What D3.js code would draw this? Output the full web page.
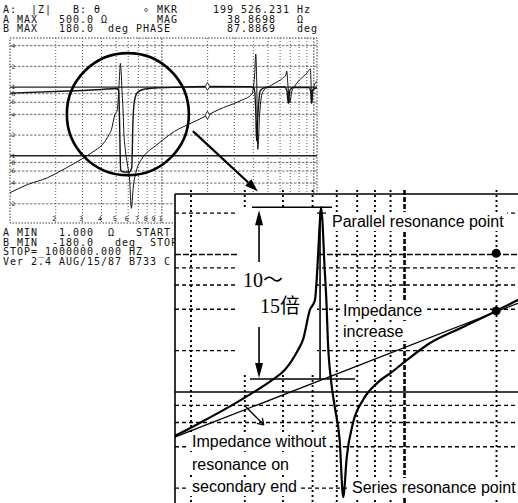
<!DOCTYPE html>
<html>
<head>
<meta charset="utf-8">
<script src="https://cdn.jsdelivr.net/npm/d3@7/dist/d3.min.js"></script>
<style>
  html, body { margin: 0; padding: 0; background: #fff; }
  svg { display: block; }
</style>
</head>
<body>
<script>
// |Z| trace of the sweep (frequency in kHz, magnitude in ohm)
const impFreq = [10, 13, 17.7, 22.7, 30, 36.8, 40.6, 44.8, 46.5, 49, 50.9, 52, 52.8, 53.3, 53.9, 54.6,
  55.6, 56.1, 57.5, 59.1, 61.3, 63, 64.7, 67.8, 73.1, 81.3, 91, 101.9, 121.2, 155.4, 199.526, 235,
  326, 391, 408, 415, 421, 428, 440, 462, 540, 625, 655, 664, 675, 695, 715, 750, 900, 950, 960, 970, 990, 1050];
const impMag = [2.9, 3.8, 4.8, 6.4, 9.1, 12.2, 14.5, 20.2, 23.9, 39.5, 46.7, 90, 170, 221, 170, 90,
  41.5, 23.9, 12, 7.8, 4.5, 1.72, 3.37, 5.95, 8.75, 11.6, 14, 17.1, 22.7, 29.7, 38.8698, 46.7,
  62.7, 79, 150, 303, 120, 12.4, 40, 86, 110, 135, 150, 171, 110, 58.5, 85, 103, 160, 183, 110, 58.5, 95, 122];

// phase trace (kHz, degrees)
const phaseFreq = [10, 24, 40, 50, 52, 52.8, 53.5, 56, 61, 63.3, 64.5, 66, 69, 75, 90, 130, 199.526,
  380, 405, 415, 420, 428, 445, 480, 640, 665, 680, 695, 730, 930, 955, 965, 980, 1050];
const phaseDeg = [75, 79, 82, 84, 80, 0, -75, -78, -78, -70, 20, 60, 76, 82, 85, 86.5, 87.8869,
  87.5, 84, 40, -18, 30, 80, 86, 87, 80, 55, 80, 86, 86, 78, 55, 80, 86];

// impedance with no resonance on the secondary end (straight on log-log)
const refFreq = [17.7, 235];
const refMag = [4.7, 44.2];

// marker readout
const markerFreq = 199.526231;   // kHz
const markerMag = 38.8698;       // ohm
const markerPhase = 87.8869;     // deg

// grid values and tick labels
const freqGrid = [20, 30, 40, 50, 60, 70, 80, 90, 100, 200, 300, 400, 500, 600, 700, 800, 900, 1000];
const freqTickLabels = ["2", "3", "4", "5", "6", "7", "8", "9", "1"];
const magGrid = [2, 4, 6, 8, 10, 20, 40, 60, 80, 100, 200, 400];
const magTickLabels = ["2", "4", "6", "8", "1", "2", "4", "6", "8", "1", "2", "4"];
const insetFreqGrid = [20, 30, 40, 50, 60, 70, 80, 90, 100, 200];
const insetMagGrid = [2, 4, 6, 8, 10, 20, 40, 60, 80, 100, 200];

// screen readout text
const headerRows = [
  "A:  |Z|   B: θ      ∘ MKR     199 526.231 Hz",
  "A MAX   500.0 Ω       MAG       38.8698   Ω",
  "B MAX   180.0  deg PHASE        87.8869   deg"
];
const footerRows = [
  "A MIN   1.000  Ω   START",
  "B MIN  -180.0   deg  STOP",
  "STOP=_1000000.000 HZ",
  "Ver 2.4 AUG/15/87 B733 C"
];

// annotation text
const labelParallel = "Parallel resonance point";
const labelIncrease = ["Impedance", "increase"];
const labelWithout = ["Impedance without", "resonance on", "secondary end"];
const labelSeries = "Series resonance point";
const labelRatio = ["10～", "15倍"];

// ------------------------------------------------------------------
const W = 518, H = 503;
const ink = "#111";
const mono = "'DejaVu Sans Mono', 'Liberation Mono', monospace";
const sans = "'Liberation Sans', Arial, 'Noto Sans', sans-serif";
const serif = "'Liberation Serif', 'Noto Sans CJK SC', serif";

const svg = d3.select("body").append("svg")
  .attr("width", W).attr("height", H)
  .attr("viewBox", `0 0 ${W} ${H}`);
const defs = svg.append("defs");

const imp = d3.zip(impFreq, impMag);
const phase = d3.zip(phaseFreq, phaseDeg);
const ref = d3.zip(refFreq, refMag);

// ---------------- analyzer screen ----------------
const scr = { l: 10, r: 317, t: 38, b: 223 };
const x = d3.scaleLog().domain([10, 1050]).range([scr.l, scr.r]);
const y = d3.scaleLog().domain([1, 500]).range([224.5, 39]);
const yPh = d3.scaleLinear().domain([-180, 180]).range([224.5, 39]);

defs.append("clipPath").attr("id", "scrClip")
  .append("rect").attr("x", scr.l).attr("y", scr.t)
  .attr("width", scr.r - scr.l).attr("height", scr.b - scr.t);

// fixed-pitch readout rows (spaces kept as no-break spaces so columns line up)
const textBlock = (rows, y0) => svg.append("g")
  .attr("font-family", mono).attr("font-size", 10).attr("fill", ink)
  .style("letter-spacing", "0.98px")
  .selectAll("text").data(rows).join("text")
  .attr("x", 3).attr("y", (d, i) => y0 + i * 9.5)
  .text(d => d.replace(/ /g, "\u00a0"));

textBlock(headerRows, 13);
textBlock(footerRows, 236);

const screen = svg.append("g");

// grid
screen.append("g").selectAll("line").data(freqGrid).join("line")
  .attr("x1", d => x(d)).attr("x2", d => x(d))
  .attr("y1", scr.t).attr("y2", scr.b)
  .attr("stroke", "#333").attr("stroke-width", 0.8)
  .attr("stroke-dasharray", d => d === 100 || d === 1000 ? "2,1" : "1,2");

screen.append("g").selectAll("line").data(magGrid).join("line")
  .attr("x1", scr.l).attr("x2", scr.r)
  .attr("y1", d => y(d)).attr("y2", d => y(d))
  .attr("stroke", d => (d === 10 || d === 100) ? "#222" : "#444")
  .attr("stroke-width", d => (d === 10 || d === 100) ? 1.3 : 0.8)
  .attr("stroke-dasharray", d => (d === 10 || d === 100) ? null : "2.5,1.5");

// frame
screen.append("rect")
  .attr("x", scr.l).attr("y", scr.t)
  .attr("width", scr.r - scr.l).attr("height", scr.b - scr.t)
  .attr("fill", "none").attr("stroke", "#222").attr("stroke-width", 0.9)
  .attr("stroke-dasharray", "1.5,1.5");

// tiny scale digits
screen.append("g").attr("font-family", mono).attr("font-size", 6).attr("fill", ink)
  .selectAll("text").data(magGrid).join("text")
  .attr("x", scr.l + 1.5).attr("y", d => y(d) + 2.2)
  .text((d, i) => magTickLabels[i]);

screen.append("g").attr("font-family", mono).attr("font-size", 6.5).attr("fill", ink)
  .attr("text-anchor", "middle")
  .selectAll("text").data(freqGrid.slice(0, freqTickLabels.length)).join("text")
  .attr("x", d => x(d) - 1.5).attr("y", scr.b - 2)
  .text((d, i) => freqTickLabels[i]);

// traces
const magLine = d3.line().x(d => x(d[0])).y(d => y(d[1])).curve(d3.curveMonotoneX);
const phLine = d3.line().x(d => x(d[0])).y(d => yPh(d[1])).curve(d3.curveMonotoneX);
const traces = screen.append("g").attr("clip-path", "url(#scrClip)");
traces.append("path").attr("d", phLine(phase))
  .attr("fill", "none").attr("stroke", ink).attr("stroke-width", 1.4);
traces.append("path").attr("d", magLine(imp))
  .attr("fill", "none").attr("stroke", ink).attr("stroke-width", 1);

// marker diamonds
const diamond = d3.symbol().type(d3.symbolDiamond).size(18);
screen.selectAll(".mk").data([yPh(markerPhase), y(markerMag)]).join("path")
  .attr("transform", d => `translate(${x(markerFreq)},${d})`)
  .attr("d", diamond).attr("fill", "#fff").attr("stroke", ink).attr("stroke-width", 0.9);

// highlight circle around the first resonance
const ringFreq = 59.7, ringMag = 40.3;
svg.append("circle")
  .attr("cx", x(ringFreq)).attr("cy", y(ringMag)).attr("r", 61)
  .attr("fill", "none").attr("stroke", "#000").attr("stroke-width", 2.6);

// pointer from the circle towards the enlarged view
const arrowFrom = [160, 22.8], arrowTo = [428, 3.03];
{
  const x0 = x(arrowFrom[0]), y0 = y(arrowFrom[1]);
  const x1 = x(arrowTo[0]), y1 = y(arrowTo[1]);
  const a = Math.atan2(y1 - y0, x1 - x0), L = 13, hw = 4.5;
  const bx = x1 - L * Math.cos(a), by = y1 - L * Math.sin(a);
  svg.append("line").attr("x1", x0).attr("y1", y0).attr("x2", bx).attr("y2", by)
    .attr("stroke", "#000").attr("stroke-width", 2.2);
  svg.append("path")
    .attr("d", `M${x1},${y1}L${bx + hw * Math.sin(a)},${by - hw * Math.cos(a)}L${bx - hw * Math.sin(a)},${by + hw * Math.cos(a)}Z`)
    .attr("fill", "#000");
}

// ---------------- enlarged view ----------------
const ins = { l: 175, t: 194, r: 518, b: 503 };
const xi = d3.scaleLog().domain([20, 200]).range([191, 496.5]);
const yi = d3.scaleLog().domain([10, 100]).range([392, 254.5]);

defs.append("clipPath").attr("id", "insClip")
  .append("rect").attr("x", ins.l).attr("y", ins.t)
  .attr("width", ins.r - ins.l).attr("height", ins.b - ins.t);

const inset = svg.append("g");
inset.append("rect")
  .attr("x", ins.l).attr("y", ins.t)
  .attr("width", ins.r - ins.l).attr("height", ins.b - ins.t)
  .attr("fill", "#fff");

const iGrid = inset.append("g");
iGrid.append("g").attr("clip-path", "url(#insClip)")
  .selectAll("line").data(insetMagGrid).join("line")
  .attr("x1", ins.l).attr("x2", ins.r)
  .attr("y1", d => yi(d)).attr("y2", d => yi(d))
  .attr("stroke", "#000")
  .attr("stroke-width", d => d === 10 ? 1.7 : 1.4)
  .attr("stroke-dasharray", d => d === 10 ? null : (d === 100 ? "6,2" : "4,3"));
iGrid.append("g")
  .selectAll("line").data(insetFreqGrid).join("line")
  .attr("x1", d => xi(d)).attr("x2", d => xi(d))
  .attr("y1", ins.t - 4).attr("y2", ins.b)
  .attr("stroke", "#000")
  .attr("stroke-width", d => d === 100 ? 2.6 : 1.9)
  .attr("stroke-dasharray", d => d === 100 ? "5,2" : "2,3");

const masks = inset.append("g");
const iCurves = inset.append("g").attr("clip-path", "url(#insClip)");
const iNotes = inset.append("g");
const iText = inset.append("g");

// first parallel resonance peak and the level without resonance there
const peakIdx = d3.maxIndex(impMag, (v, i) => impFreq[i] < 100 ? v : -1);
const peakF = impFreq[peakIdx], peakZ = impMag[peakIdx];
const refSlope = Math.log(refMag[1] / refMag[0]) / Math.log(refFreq[1] / refFreq[0]);
const refAt = f => refMag[0] * Math.pow(f / refFreq[0], refSlope);
const px = xi(peakF), topY = yi(peakZ), botY = yi(refAt(peakF));

// clear the grid behind the 10~15x dimension
masks.append("rect")
  .attr("x", px - 83).attr("y", topY + 1)
  .attr("width", 79).attr("height", botY - topY - 9)
  .attr("fill", "#fff");

// curves
const iMagLine = d3.line().x(d => xi(d[0])).y(d => yi(d[1])).curve(d3.curveMonotoneX);
iCurves.append("path").attr("d", iMagLine(ref))
  .attr("fill", "none").attr("stroke", "#000").attr("stroke-width", 1.3);
iCurves.append("path").attr("d", iMagLine(imp))
  .attr("fill", "none").attr("stroke", "#000").attr("stroke-width", 2.2)
  .attr("stroke-linejoin", "round");

// marker dots on the phase level and on the magnitude
iNotes.selectAll("circle").data([y.invert(yPh(markerPhase)), markerMag]).join("circle")
  .attr("cx", xi(markerFreq)).attr("cy", d => yi(d)).attr("r", 4.5)
  .attr("fill", "#000");

// dimension bars, reference line and arrows
const seg = (x1, y1, x2, y2, w) => iNotes.append("line")
  .attr("x1", x1).attr("y1", y1).attr("x2", x2).attr("y2", y2)
  .attr("stroke", "#000").attr("stroke-width", w);
const head = (tx, ty, dir) => iNotes.append("path")
  .attr("d", `M${tx},${ty}L${tx - 4},${ty + dir * 15}L${tx + 4},${ty + dir * 15}Z`)
  .attr("fill", "#000");

seg(px - 69, topY, px + 11, topY, 1.5);
seg(px - 71, botY - 1, px + 34, botY - 1, 1.5);
seg(px - 1, topY + 4, px - 1, botY - 1, 1.6);
const ax = px - 62;
seg(ax, 262, ax, topY + 14, 1.6);
head(ax, topY + 3, 1);
seg(ax, 327, ax, botY - 14, 1.6);
head(ax, botY - 2, -1);

// pointer to the "without resonance" note
{
  const f0 = 30, x0 = xi(f0), y0 = yi(refAt(f0)) - 4;
  const x1 = x0 + 19, y1 = y0 + 19;
  seg(x0, y0, x1, y1, 1.3);
  seg(x1, y1, x1 - 7, y1 - 1.5, 1.3);
  seg(x1, y1, x1 - 1.5, y1 - 7, 1.3);
}

// labels
const label = (str, lx, ly, font, size) => iText.append("text")
  .attr("x", lx).attr("y", ly).attr("font-family", font).attr("font-size", size)
  .attr("fill", "#000").text(str);

const texts = [];
texts.push(label(labelParallel, 332, 227, sans, 16));
labelIncrease.forEach((s, i) => texts.push(label(s, 343, 316 + i * 21, sans, 16)));
labelWithout.forEach((s, i) => texts.push(label(s, 192, 447 + i * 22.5, sans, 16)));
texts.push(label(labelSeries, 352, 493, sans, 16));
label(labelRatio[0], px - 78, 287, serif, 20);
label(labelRatio[1], px - 61, 313, serif, 20);

// white patches under the captions
texts.forEach(t => {
  const b = t.node().getBBox();
  masks.append("rect")
    .attr("x", b.x - 3).attr("y", b.y - 1)
    .attr("width", b.width + 6).attr("height", b.height + 2)
    .attr("fill", "#fff");
});

// border of the enlarged view
inset.append("line").attr("x1", ins.l).attr("x2", ins.r).attr("y1", ins.t).attr("y2", ins.t)
  .attr("stroke", "#000").attr("stroke-width", 1.6);
inset.append("line").attr("x1", ins.l).attr("x2", ins.l).attr("y1", ins.t).attr("y2", ins.b)
  .attr("stroke", "#000").attr("stroke-width", 1.6);
</script>
</body>
</html>
